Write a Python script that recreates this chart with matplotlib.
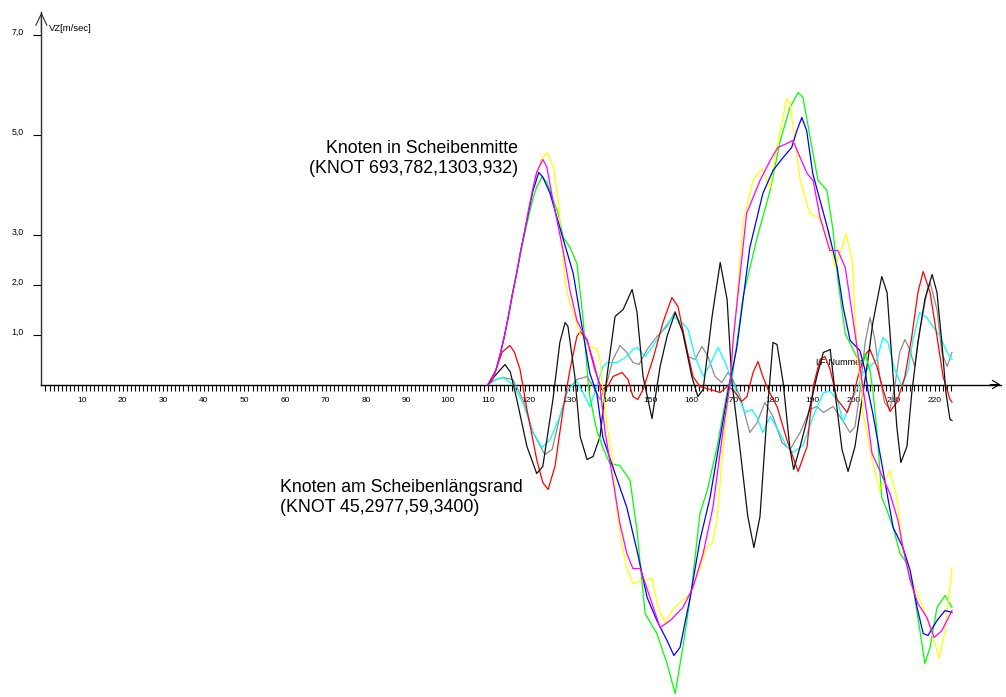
import matplotlib
matplotlib.use('Agg')
import matplotlib.pyplot as plt

plt.rcParams['font.family'] = ['Liberation Sans', 'DejaVu Sans']

# Knoten in Scheibenmitte (VZ in m/sec over LF-Nummer)
gelb_x = [110, 111, 112, 113, 114, 115, 116, 117, 118, 119, 120, 121, 122, 123, 124.5, 126.1, 127.3,
          128.1, 129, 130.2, 132.7, 134.7, 136.8, 137.6, 138.2, 139.5, 140.8, 141.8, 143, 144.2, 145.7,
          148.2, 150.4, 151.9, 153.6, 155.5, 157.3, 159.8, 162.3, 164, 165.2, 166.4, 167.9, 169.6, 170.6,
          172.9, 175.3, 177.5, 179.5, 181.2, 183.6, 184.4, 186.9, 189.3, 191.3, 193.5, 195.5, 196.7,
          198.2, 199.7, 200.4, 201.1, 202.1, 202.4, 204.8, 206.5, 209, 210.7, 212.2, 214.4, 217.1,
          219.4, 221.1, 222.6, 224.3]
gelb_y = [0, 0.08, 0.3, 0.6, 0.95, 1.35, 1.8, 2.2, 2.65, 3.05, 3.45, 3.85, 4.2, 4.48, 4.64, 4.36, 3.69,
          2.89, 2.03, 1.62, 1.02, 0.76, 0.72, 0.49, -0.04, -0.9, -1.58, -2.58, -3.2, -3.66, -3.98,
          -3.92, -3.88, -4.46, -4.76, -4.5, -4.36, -4.18, -3.66, -3.22, -3.18, -2.72, -1.26, 0, 1.0,
          3.29, 4.08, 4.32, 3.94, 4.74, 5.72, 5.62, 4.08, 3.42, 3.34, 3.08, 2.34, 2.62,
          3.02, 2.48, 1.42, 0.42, -0.12, -0.58, -1.58, -2.12, -1.72, -2.26, -3.26, -3.92, -4.46,
          -4.98, -5.46, -4.92, -3.66]

gruen_x = [110, 111, 112, 113, 114, 115, 116, 117, 118, 119, 120, 121, 122, 123.3, 124.5, 126, 127.3,
           128.5, 130.2, 131.9, 133.4, 134.7, 135.1, 136.8, 138.5, 140, 142.5, 145, 146.7, 148.7, 151.6,
           154.1, 156.1, 158, 160.2, 162.2, 164, 166.4, 169.1, 170.3, 172.8, 176.3, 179.5, 182, 184.4,
           186.4, 187.6, 189.8, 191.3, 193.5, 195, 196.2, 198, 200.9, 202.4, 202.9, 204.1, 204.8, 205.8,
           207, 208.3, 209.8, 211.5, 213.2, 214.7, 216.4, 217.6, 218.9, 220.6, 222.6, 224.3]
gruen_y = [0, 0.08, 0.3, 0.6, 0.95, 1.35, 1.8, 2.2, 2.6, 3.0, 3.35, 3.7, 3.95, 4.15, 4.05, 3.7, 3.42,
           2.95, 2.74, 2.42, 1.34, 0.02, -0.26, -0.92, -1.3, -1.58, -1.62, -1.92, -2.92, -4.58, -4.98,
           -5.58, -6.18, -5.26, -4.06, -2.58, -2.12, -1.26, -0.06, 0.22, 1.74, 2.94, 3.88, 4.88, 5.54,
           5.84, 5.74, 4.74, 4.08, 3.88, 3.08, 2.08, 1.02, 0.54, 0.42, 0.62, 0.28, -0.12, -0.92,
           -2.26, -2.52, -2.86, -3.38, -3.58, -4.06, -4.92, -5.58, -5.26, -4.46, -4.22, -4.46]

blau_x = [110, 111, 112, 113, 114, 115, 116, 117, 118, 119, 120, 121, 122.5, 123.5, 125.3, 127.7, 131,
          133.2, 135.1, 136.8, 138.3, 140.8, 144.2, 146.7, 149.2, 151.6, 154.1, 155.8, 157.3, 159.8,
          162.2, 164.7, 167.2, 169.3, 171.3, 174.5, 177.7, 180.2, 182.7, 184.8, 186.1, 187.3, 188.5,
          190, 191.8, 193.8, 196, 197.5, 199.2, 201.6, 202.9, 203.6, 204.8, 207.3, 209.8, 212.2, 214,
          215.7, 217.2, 218.4, 220.6, 222.6, 224.3]
blau_y = [0, 0.08, 0.3, 0.6, 0.95, 1.35, 1.8, 2.2, 2.65, 3.05, 3.45, 3.85, 4.24, 4.15, 3.82, 3.14, 2.22,
          1.14, 0.22, -0.18, -1.06, -1.66, -2.46, -3.32, -4.26, -4.72, -5.12, -5.42, -5.26, -4.26,
          -3.12, -2.26, -1.06, -0.06, 0.74, 2.74, 3.82, 4.28, 4.54, 4.74, 5.08, 5.34, 5.08,
          4.22, 3.68, 3.08, 2.34, 1.54, 0.88, 0.68, 0.28, -0.12, -0.58, -1.72, -2.86, -3.26, -3.72,
          -4.46, -4.98, -5.02, -4.72, -4.52, -4.56]

magenta_x = [110, 111, 112, 113, 114, 115, 116, 117, 118, 119, 120, 121, 122, 123.5, 124.5, 126, 128.5,
             130.2, 131.9, 134.4, 135.9, 137.6, 138.8, 140.8, 142.5, 144.2, 145.7, 147.5, 149.9, 152.4,
             154.9, 158, 160.5, 163, 165.4, 167.9, 169.6, 170.4, 173.7, 177, 179.5, 181.4, 183.6, 185.1,
             186.9, 188.6, 190.1, 191.8, 194.2, 196.2, 198, 199.7, 200.9, 202.1, 203.3, 204.6, 206.5,
             209, 211, 212.2, 214, 215.9, 218.1, 219.9, 221.8, 224.3]
magenta_y = [0, 0.08, 0.3, 0.6, 0.95, 1.35, 1.8, 2.2, 2.65, 3.05, 3.5, 3.9, 4.25, 4.5, 4.35, 3.68, 2.68,
             1.88, 1.28, 0.88, 0.48, -0.06, -0.92, -1.92, -2.78, -3.38, -3.68, -3.68, -4.26, -4.86,
             -4.72, -4.46, -4.06, -3.38, -2.46, -0.92, 0, 0.9, 3.42, 4.08, 4.48, 4.74, 4.82, 4.88,
             4.54, 4.22, 4.08, 3.34, 2.68, 2.68, 2.34, 1.42, 0.74, 0.08, -0.58, -1.38, -1.72,
             -2.18, -2.72, -3.26, -3.92, -4.38, -4.66, -5.06, -4.92, -4.52]

# Knoten am Scheibenlaengsrand
schwarz_x = [110, 112, 114.2, 115.5, 117.1, 119.6, 122, 123.5, 126, 127.7, 129, 129.7, 131.4, 132.7,
             134.4, 135.9, 137.6, 139.3, 141.3, 143.3, 145.5, 146.7, 148.2, 150.4, 152.4, 154.1, 156.1,
             158, 160.2, 161.7, 163, 165.2, 167.2, 168.9, 170.1, 172.1, 174, 175.5, 177, 178.7, 180.2,
             181.2, 182.7, 184.4, 185.3, 186.9, 188.6, 191, 192.6, 194.3, 195.5, 197.2, 198.7, 200.4,
             202.4, 203.6, 204.8, 207, 208.3, 209.5, 210.7, 211.7, 213.2, 214.4, 215.9, 217.6, 219.4,
             220.6, 221.8, 222.8, 223.8, 224.3]
schwarz_y = [0, 0.2, 0.4, 0.25, -0.3, -1.24, -1.78, -1.64, -0.3, 0.84, 1.24, 1.16, 0.16, -1.04,
             -1.5, -1.44, -1.04, 0.16, 1.36, 1.5, 1.9, 1.45, 0.16, -0.68, 0.36, 0.96, 1.44,
             1.04, 0.16, -0.24, -0.1, 1.36, 2.44, 1.7, 0.04, -1.3, -2.64, -3.26, -2.64, -0.64, 0.84,
             0.8, 0.04, -1.3, -1.7, -1.24, -0.7, 0.16, 0.64, 0.7, -0.16, -1.3, -1.74, -1.24,
             -0.16, 0.5, 1.24, 2.16, 1.84, 0.5, -0.84, -1.56, -1.24, -0.16, 0.84, 1.7, 2.2,
             1.84, 0.84, -0.16, -0.7, -0.72]

rot_x = [110, 112, 113.5, 115.4, 116.5, 117.9, 119.6, 122, 123.5, 124.8, 126.5, 128.5, 130.2, 131.9,
         132.7, 134.4, 136.3, 138, 139.5, 140.8, 143, 144.5, 145.7, 146.9, 148.2, 150.6, 153.1, 155.3,
         156.8, 159, 160.5, 162.2, 164.7, 167.2, 168.9, 170.3, 172.5, 173.8, 175.3, 176.5, 177.7, 179,
         181.2, 183.6, 186.4, 188.6, 190.1, 191.8, 193, 194.3, 196, 198.5, 199.9, 201.6, 203.3, 204.1,
         205.8, 207.3, 209, 210.7, 212.7, 214.4, 215.9, 217.2, 218.9, 220.6, 222.1, 223.8, 224.3]
rot_y = [0, 0.3, 0.65, 0.78, 0.65, 0.3, -0.5, -1.5, -1.96, -2.1, -1.64, -0.5, 0.3, 0.96,
         1.06, 0.9, 0.3, -0.1, -0.04, 0.16, 0.24, 0.1, -0.24, -0.3, -0.1, 0.5, 1.24, 1.74,
         1.56, 0.7, 0.16, -0.04, -0.1, -0.16, -0.04, -0.1, -0.34, -0.24, 0.24, 0.46, 0.16, -0.1,
         -0.44, -1.1, -1.74, -1.24, -0.04, 0.5, 0.56, 0.3, -0.3, -0.56, -0.24, 0.3, 0.64, 0.7,
         0.36, -0.1, -0.54, -0.36, 0.16, 0.96, 1.84, 2.26, 1.84, 0.96, 0.16, -0.3, -0.35]

grau_x = [110, 112, 113.7, 116.1, 118.6, 121.1, 124, 125.8, 127.7, 129.7, 131.9, 134.4, 135.9, 137.6,
          139.3, 140.8, 142.5, 144.2, 145.7, 147.2, 149.2, 151.6, 154.1, 156.1, 157.8, 159.3, 161,
          162.7, 164.2, 165.9, 167.6, 169.1, 170.3, 172.1, 174.5, 176.3, 178.2, 180.2, 182.4, 184.4,
          186.9, 189.3, 191, 192.6, 195, 197.2, 199.2, 200.4, 201.6, 202.9, 204.1, 205.3, 206.5,
          207.7, 209, 210.2, 211.4, 212.7, 213.9, 215.1, 216.3, 218.1, 218.9, 220.6, 221.8, 223.1,
          224.3]
grau_y = [0, 0.1, 0.14, 0.1, -0.3, -0.96, -1.4, -1.3, -0.64, -0.1, 0.1, 0.16, -0.04, -0.3,
          0.04, 0.5, 0.78, 0.64, 0.44, 0.4, 0.7, 0.96, 1.16, 1.46, 1.1, 0.56, 0.5,
          0.76, 0.56, 0.16, 0.04, 0.24, 0.1, -0.24, -0.96, -0.76, -0.36, -0.64, -1.16, -1.3,
          -0.96, -0.5, -0.44, -0.56, -0.44, -0.7, -0.96, -0.84, -0.16, 0.84, 1.34, 0.9, 0.16,
          -0.36, -0.5, -0.04, 0.64, 0.9, 0.7, 0.36, 1.04, 1.84, 2.04, 1.5, 0.64, 0.36,
          0.64]

cyan_x = [110, 112, 113.7, 116.1, 118.6, 121.1, 123.3, 125.3, 127.7, 129.7, 131.9, 133.4, 135.1,
          136.8, 138.3, 139.5, 141.8, 144.2, 145.7, 146.7, 148.7, 150.6, 153.1, 155.6, 157.8, 159.3,
          161, 163, 164.7, 166.7, 168.4, 170.1, 171.6, 173.3, 175, 176.5, 177.7, 179.5, 181.4, 183.6,
          185.1, 187.6, 190.1, 192.6, 194.3, 196, 197.5, 199.2, 200.9, 202.4, 204.1, 205.8, 207.3,
          208.5, 210.2, 212, 213.5, 214.7, 216.3, 218.1, 219.6, 221.4, 223.1, 224.3]
cyan_y = [0, 0.1, 0.14, 0, -0.36, -0.96, -1.26, -1.1, -0.64, -0.1, 0.06, -0.16, -0.44,
          -0.04, 0.36, 0.44, 0.44, 0.56, 0.7, 0.74, 0.56, 0.76, 1.1, 1.36, 1.24, 1.1,
          0.56, 0.16, 0.4, 0.74, 0.44, 0.1, -0.24, -0.56, -0.5, -0.7, -0.96, -0.64, -0.9, -1.24,
          -1.36, -1.22, -0.64, -0.16, -0.14, -0.3, -0.75, -0.36, -0.1, 0.24, 0.36, 0.5, 0.94,
          0.84, 0.3, -0.04, 0.3, 0.9, 1.44, 1.34, 1.16, 0.96, 0.64, 0.5]

y_ticks = [1, 2, 3, 5, 7]
y_ticklabels = ['1,0', '2,0', '3,0', '5,0', '7,0']
x_ticks = list(range(1, 225))
x_ticklabels = [str(v) if v % 10 == 0 else '' for v in x_ticks]

fig = plt.figure(figsize=(10.06, 6.97), dpi=100)
ax = fig.add_axes([0, 0, 1, 1])
ax.set_xlim(-10.2, 237.6)
ax.set_ylim(-6.25, 7.69)

ax.spines['top'].set_visible(False)
ax.spines['right'].set_visible(False)
ax.spines['left'].set_position(('data', 0))
ax.spines['left'].set_bounds(0, 7.45)
ax.spines['left'].set_color('#303030')
ax.spines['bottom'].set_position(('data', 0))
ax.spines['bottom'].set_bounds(0, 236.3)
for s in ('left', 'bottom'):
    ax.spines[s].set_linewidth(1.0)

ax.set_xticks(x_ticks)
ax.set_xticklabels(x_ticklabels)
ax.set_yticks(y_ticks)
ax.set_yticklabels(y_ticklabels)
ax.tick_params(axis='x', direction='out', length=4.3, width=0.8, pad=4.5, labelsize=6)
ax.tick_params(axis='y', direction='out', length=5.8, width=0.8, pad=7, labelsize=6.3)
for lbl in ax.get_yticklabels():
    lbl.set_verticalalignment('baseline')

# Pfeilspitzen an den Achsen
ax.annotate('', xy=(0, 7.5), xytext=(0, 7.0),
            arrowprops=dict(arrowstyle='->,head_length=0.85,head_width=0.4', lw=0.8, color='#303030'))
ax.annotate('', xy=(236.9, 0), xytext=(233, 0),
            arrowprops=dict(arrowstyle='->,head_length=0.5,head_width=0.3', lw=0.8, color='black'))

ax.text(1.9, 7.12, 'VZ[m/sec]', fontsize=6.8, va='center', ha='left')
ax.text(190.5, 0.45, 'LF-Nummer', fontsize=6.5, va='center', ha='left', zorder=1)

serien = [
    (grau_x, grau_y, '#8c8c8c'),
    (cyan_x, cyan_y, '#00ffff'),
    (rot_x, rot_y, '#ff0000'),
    (schwarz_x, schwarz_y, '#111111'),
    (gruen_x, gruen_y, '#00ff00'),
    (gelb_x, gelb_y, '#ffff00'),
    (blau_x, blau_y, '#0000ff'),
    (magenta_x, magenta_y, '#ff00ff'),
]
for xs, ys, farbe in serien:
    ax.plot(xs, ys, color=farbe, lw=0.9, zorder=3)

ax.text(117.4, 4.624, 'Knoten in Scheibenmitte', fontsize=12.8, ha='right', va='baseline')
ax.text(117.4, 4.224, '(KNOT 693,782,1303,932)', fontsize=12.8, ha='right', va='baseline')
ax.text(58.8, -2.156, 'Knoten am Scheibenlängsrand', fontsize=12.8, ha='left', va='baseline')
ax.text(58.8, -2.544, '(KNOT 45,2977,59,3400)', fontsize=12.8, ha='left', va='baseline')

fig.savefig('out.png', dpi=100)
